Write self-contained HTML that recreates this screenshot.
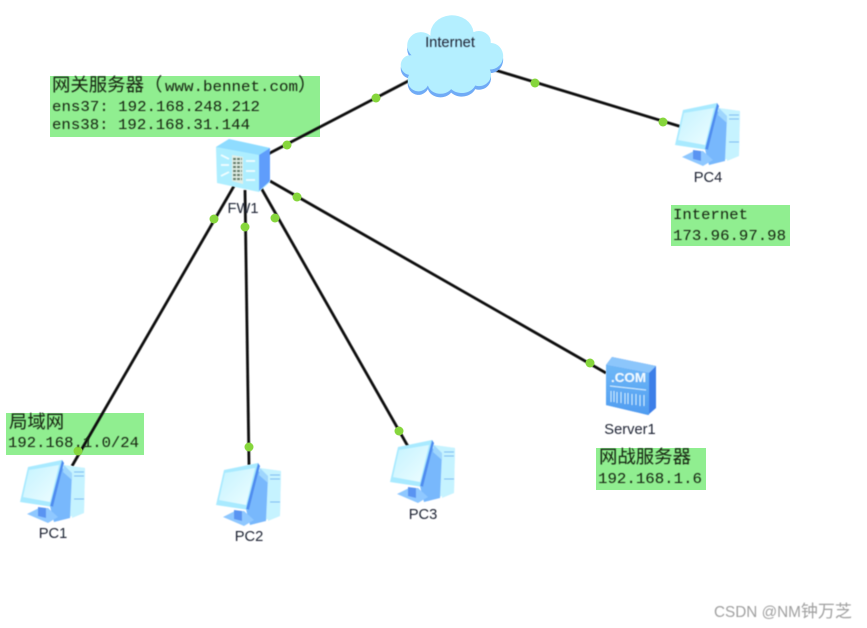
<!DOCTYPE html>
<html>
<head>
<meta charset="utf-8">
<style>
html,body{margin:0;padding:0;background:#fff;width:867px;height:628px;overflow:hidden}
svg{display:block}
.m{font-family:"Liberation Mono","DejaVu Sans Mono",monospace;font-size:14.5px;fill:#16240f}
.c{font-family:"Liberation Sans","Noto Sans CJK SC",sans-serif;font-size:18.4px;fill:#16240f}
.l{font-family:"Liberation Sans",sans-serif;font-size:14.7px;fill:#1f2433;text-anchor:middle}
</style>
</head>
<body>
<svg width="867" height="628" viewBox="0 0 867 628" xmlns="http://www.w3.org/2000/svg">
<defs>
<filter id="b" x="-5%" y="-5%" width="110%" height="110%"><feGaussianBlur stdDeviation="0.4"/></filter>
<linearGradient id="scr" x1="0" y1="0" x2="1" y2="1"><stop offset="0" stop-color="#c4f3ff"/><stop offset="1" stop-color="#eefdff"/></linearGradient>
<linearGradient id="srv" x1="0" y1="0" x2="0" y2="1"><stop offset="0" stop-color="#6fb8f7"/><stop offset="1" stop-color="#4f9cf0"/></linearGradient>
<path id="cl" d="M403,72 A11,11 0 0 1 406,50 A15,14 0 0 1 428,28 A24,20 0 0 1 478,24 A14,12 0 0 1 498,36 A15,15 0 0 1 497,66 A14,13 0 0 1 480,84 A17,14 0 0 1 452,88 A15,12 0 0 1 425,84 A12,12 0 0 1 403,72 Z"/>
<g id="pc">
  <polygon points="43,5 65,8 64,52 34,62 30,46" fill="#c6f3ff"/>
  <polygon points="42,8 52,14 50,58 34,62 30,46" fill="#78b8fc"/>
  <polygon points="52,12 52,58 64,53 65,8 44,5" fill="#c6f3ff"/>
  <polygon points="44,5 52,13 52,20 43,12" fill="#9fd6fd"/>
  <path d="M54,12H64M54,16H64M54,39H64" stroke="#74b8f2" stroke-width="1"/>
  <polygon points="7,54 19,48 28,48 38,57 28,63" fill="#8fc8ff"/>
  <polygon points="18,47 26,48 26,58 18,56" fill="#5a94f2"/>
  <polygon points="8,7 42,0 44,3 33,47 0,42" fill="#a9eaff"/>
  <polygon points="42,0 44,3 33,47 30,46" fill="#4f8df0"/>
  <polygon points="9,10 39,5 30,42 3,37" fill="url(#scr)"/>
</g>
</defs>

<!-- green labels -->
<g fill="#90ee90">
  <rect x="50" y="76" width="270" height="61"/>
  <rect x="671" y="205" width="119" height="41"/>
  <rect x="6" y="413" width="138" height="42"/>
  <rect x="596" y="448" width="110" height="42"/>
</g>

<!-- connectors -->
<g stroke="#111" stroke-width="2.8" fill="none" filter="url(#b)">
  <line x1="268" y1="154" x2="416" y2="77"/>
  <line x1="495" y1="70" x2="682" y2="127"/>
  <line x1="234" y1="186" x2="72" y2="466"/>
  <line x1="245" y1="190" x2="249" y2="465"/>
  <line x1="260" y1="186" x2="410" y2="450"/>
  <line x1="270" y1="181" x2="606" y2="373"/>
</g>

<!-- cloud -->
<g filter="url(#b)" transform="translate(452 98) scale(.86 .89) translate(-453 -98)">
  <use href="#cl" fill="#6fabf6" transform="translate(0,4)"/>
  <use href="#cl" fill="#b4efff"/>
</g>

<!-- firewall -->
<g filter="url(#b)">
  <polygon points="216,147 229,139 270,148 270,182 259,192 217,183" fill="#aeeeff"/>
  <polygon points="216,147 229,139 270,148 259,155" fill="#8fdcff"/>
  <polygon points="259,155 270,148 270,181 259,191" fill="#5e9dfb"/>
  <polygon points="232,155 243,157 243,184 232,181" fill="#e2efe6"/>
  <path d="M233,159h9M233,163h9M233,167h9M233,171h9M233,175h9M233,179h9" stroke="#5f7a68" stroke-width="2.2" stroke-dasharray="3 1"/>
  <path d="M221,155l8,4M221,165h8M221,176l8,-4M246,161h9M246,171h9M246,180h9" stroke="#f2feff" stroke-width="1.8"/>
</g>

<!-- server -->
<g filter="url(#b)">
  <polygon points="606,365 612,357 656,366 656,408 648,415 606,405" fill="#3e7fe8"/>
  <polygon points="606,365 612,357 656,366 649,373" fill="#8cc6fb"/>
  <polygon points="606,365 649,373 649,415 606,405" fill="url(#srv)"/>
  <path d="M610,386l36,4" stroke="#d5f1ff" stroke-width="1"/>
  <path d="M611,391v11M614,391v11M617,392v11M621,392v11M625,393v11M628,393v11M632,394v11M636,394v11M640,395v11M644,395v11" stroke="#c6ebff" stroke-width="1"/>
  <text x="611" y="382" font-family="Liberation Sans,sans-serif" font-weight="700" font-size="13" fill="#f2fcff" textLength="35" lengthAdjust="spacingAndGlyphs">.COM</text>
</g>

<!-- PCs -->
<g filter="url(#b)">
  <use href="#pc" x="675" y="103"/>
  <use href="#pc" x="20" y="460"/>
  <use href="#pc" x="216" y="463"/>
  <use href="#pc" x="390" y="440"/>
</g>

<!-- dots -->
<g fill="#86d63c">
  <circle cx="287" cy="145" r="4.5"/>
  <circle cx="376" cy="98" r="4.5"/>
  <circle cx="535" cy="83" r="4.5"/>
  <circle cx="663" cy="122" r="4.5"/>
  <circle cx="214" cy="219" r="4.5"/>
  <circle cx="245" cy="227" r="4.5"/>
  <circle cx="275" cy="218" r="4.5"/>
  <circle cx="297" cy="197" r="4.5"/>
  <circle cx="78" cy="451" r="4.5"/>
  <circle cx="249" cy="447" r="4.5"/>
  <circle cx="399" cy="431" r="4.5"/>
  <circle cx="590" cy="363" r="4.5"/>
</g>

<!-- text -->
<g filter="url(#b)">
  <text class="l" x="450" y="47">Internet</text>
  <text class="l" x="243" y="213">FW1</text>
  <text class="l" x="708" y="182">PC4</text>
  <text class="l" x="53" y="538">PC1</text>
  <text class="l" x="249" y="541">PC2</text>
  <text class="l" x="423" y="519">PC3</text>
  <text class="l" x="630" y="434">Server1</text>

  <text class="c" x="52" y="91">网关服务器（</text>
  <text class="m" x="165" y="91" textLength="133" lengthAdjust="spacingAndGlyphs">www.bennet.com</text>
  <text class="c" x="298" y="91">）</text>
  <text class="m" x="52" y="111" textLength="208" lengthAdjust="spacingAndGlyphs">ens37: 192.168.248.212</text>
  <text class="m" x="52" y="129" textLength="198" lengthAdjust="spacingAndGlyphs">ens38: 192.168.31.144</text>

  <text class="m" x="673" y="219" textLength="75" lengthAdjust="spacingAndGlyphs">Internet</text>
  <text class="m" x="673" y="240" textLength="113" lengthAdjust="spacingAndGlyphs">173.96.97.98</text>

  <text class="c" x="9" y="428">局域网</text>
  <text class="m" x="8" y="447" textLength="131" lengthAdjust="spacingAndGlyphs">192.168.1.0/24</text>

  <text class="c" x="599" y="463">网战服务器</text>
  <text class="m" x="598" y="483" textLength="104" lengthAdjust="spacingAndGlyphs">192.168.1.6</text>

  <text x="714" y="617" font-family="Liberation Sans,'Noto Sans CJK SC',sans-serif" font-size="15.3" fill="#a0a0a0">CSDN @NM<tspan font-size="17">钟万芝</tspan></text>
</g>
</svg>
</body>
</html>
